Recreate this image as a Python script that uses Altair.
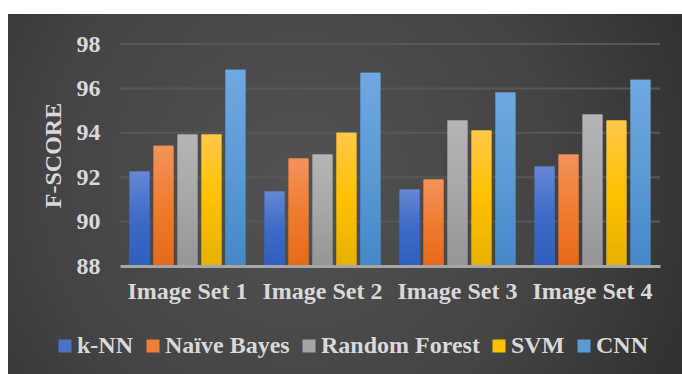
import altair as alt
import pandas as pd

groups = ["Image Set 1", "Image Set 2", "Image Set 3", "Image Set 4"]
series = ["k-NN", "Naïve Bayes", "Random Forest", "SVM", "CNN"]
knn = [92.26, 91.36, 91.45, 92.48]
nb = [93.42, 92.84, 91.90, 93.02]
rf = [93.92, 93.02, 94.55, 94.82]
svm = [93.92, 94.00, 94.10, 94.55]
cnn = [96.84, 96.70, 95.81, 96.39]
grid_values = [90, 92, 94, 96, 98]

legend_colors = ["#4a72c9", "#f07f35", "#a5a5a5", "#ffc000", "#5b9bd5"]
bar_stops = [
    ["#6687d3", "#3d6bc8", "#2f5ebe"],
    ["#f2935c", "#f07c2e", "#e6691a"],
    ["#b5b5b5", "#a7a7a7", "#959595"],
    ["#ffc84b", "#ffc100", "#e5b200"],
    ["#70a8e1", "#5b9bd5", "#4488c8"],
]

rows = []
for s, vals in zip(series, [knn, nb, rf, svm, cnn]):
    for g, v in zip(groups, vals):
        rows.append({"group": g, "series": s, "value": v})
df = pd.DataFrame(rows)

FONT = "Liberation Serif"
TXT = "#d9d9d9"

W, H = 540, 222
PL, PT = 120, 44

x_enc = alt.X("group:N", sort=groups,
              scale=alt.Scale(paddingInner=0, paddingOuter=0),
              axis=alt.Axis(title=None, labelAngle=0, ticks=False, grid=False,
                            domainColor="#a6a6a6", domainWidth=3,
                            labelFont=FONT, labelFontSize=24, labelFontWeight="bold",
                            labelColor=TXT, labelPadding=13, zindex=1))
xo_enc = alt.XOffset("series:N", sort=series,
                     scale=alt.Scale(domain=series, paddingInner=0.17, paddingOuter=0.4))
y_scale = alt.Scale(domain=[88, 98], nice=False, zero=False)
y_enc = alt.Y("value:Q", scale=y_scale,
              axis=alt.Axis(title="F-SCORE", values=grid_values + [88], grid=False,
                            ticks=False, domain=False,
                            labelFont=FONT, labelFontSize=24, labelFontWeight="bold",
                            labelColor=TXT, labelPadding=20,
                            titleFont=FONT, titleFontSize=24, titleFontWeight="bold",
                            titleColor=TXT, titleX=-60, titleY=H / 2,
                            titleBaseline="alphabetic", titleAlign="center", zindex=1))

bg = alt.Chart(pd.DataFrame({"a": [0]})).mark_rect(
    color=alt.Gradient(
        gradient="radial",
        stops=[alt.GradientStop(color="#525252", offset=0),
               alt.GradientStop(color="#444444", offset=0.5),
               alt.GradientStop(color="#272727", offset=1)],
        x1=0.43, y1=0.48, r1=0, x2=0.43, y2=0.48, r2=0.75),
).encode(x=alt.value(8 - PL), x2=alt.value(682 - PL),
         y=alt.value(14 - PT), y2=alt.value(374 - PT))

grid = alt.Chart(pd.DataFrame({"v": grid_values})).mark_rule(
    color="#575757", strokeWidth=2
).encode(y=alt.Y("v:Q", scale=y_scale))

base = alt.Chart(df).mark_bar().encode(
    x=x_enc, xOffset=xo_enc, y=y_enc, y2=alt.datum(88),
    color=alt.Color("series:N", sort=series,
                    scale=alt.Scale(domain=series, range=legend_colors),
                    legend=alt.Legend(title=None, orient="none", direction="horizontal",
                                      legendX=-67, legendY=290, padding=0,
                                      symbolType="square", symbolSize=169,
                                      symbolStrokeWidth=0, symbolOpacity=1,
                                      labelFont=FONT, labelFontSize=24,
                                      labelFontWeight="bold", labelColor=TXT,
                                      labelOffset=0, columnPadding=7, labelLimit=400)),
)

layers = [bg, grid, base]
for s, st in zip(series, bar_stops):
    grad = alt.Gradient(
        gradient="linear",
        stops=[alt.GradientStop(color=st[0], offset=0),
               alt.GradientStop(color=st[1], offset=0.5),
               alt.GradientStop(color=st[2], offset=1)],
        x1=0, y1=0, x2=0, y2=1)
    layers.append(
        alt.Chart(df).transform_filter(alt.datum.series == s).mark_bar(color=grad).encode(
            x=alt.X("group:N", sort=groups), xOffset=alt.XOffset("series:N", sort=series),
            y=alt.Y("value:Q"), y2=alt.datum(88))
    )

chart = alt.layer(*layers).properties(
    width=W, height=H,
    autosize=alt.AutoSizeParams(type="none"),
    padding={"left": PL, "top": PT, "right": 682 - PL - W, "bottom": 374 - PT - H},
    background="white",
).configure_view(stroke=None)

chart.save("out.html", embed_options={"renderer": "svg", "actions": False})
